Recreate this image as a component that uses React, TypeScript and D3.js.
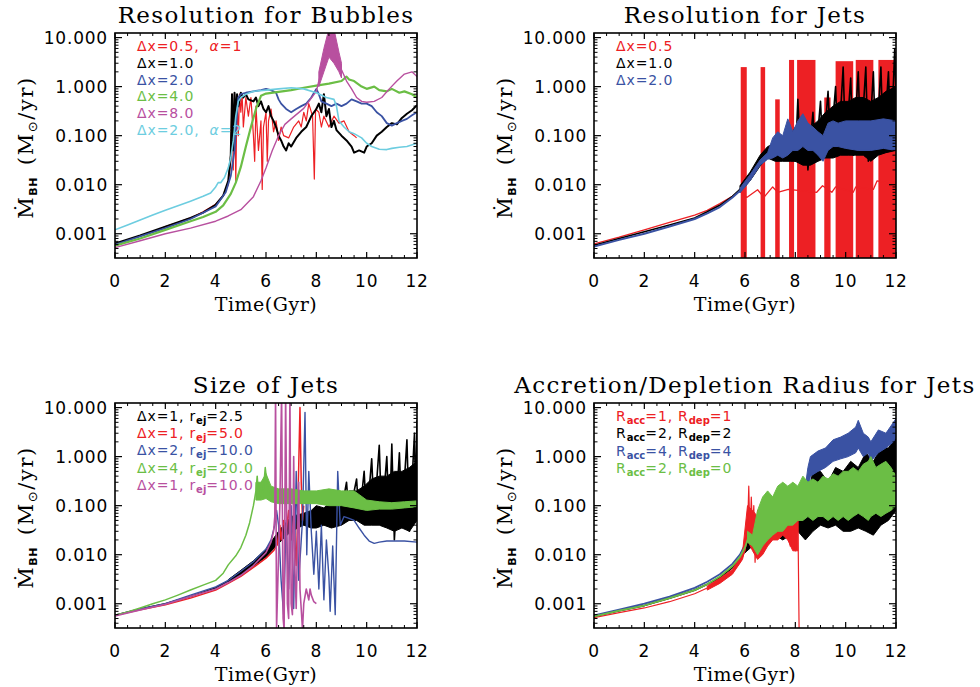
import React from "react";
import * as d3 from "d3";

type Pt = [number, number];
type Bd = [number, number, number];
type Burst = [number, number, number];

// ---------- axes ----------
const T_DOMAIN: [number, number] = [0, 12];
const V_DOMAIN: [number, number] = [3.2e-4, 12.4];
const X_TICKS = [0, 2, 4, 6, 8, 10, 12];
const Y_TICKS = [0.001, 0.01, 0.1, 1, 10];
const Y_TICK_LABELS = ["0.001", "0.010", "0.100", "1.000", "10.000"];
const TITLES = [
  "Resolution for Bubbles",
  "Resolution for Jets",
  "Size of Jets",
  "Accretion/Depletion Radius for Jets",
];

const RED = "#ED2024";
const BLACK = "#000000";
const BLUE = "#3A52A3";
const GREEN = "#6BBE45";
const MAGENTA = "#B8509F";
const CYAN = "#6DCDE0";

// ---------- Panel 1: Resolution for Bubbles ----------
const bubRed: Pt[] = [
  [0, 0.00062], [0.5, 0.00075], [1, 0.0009], [1.5, 0.0011], [2, 0.0014], [2.5, 0.0017], [3, 0.0021], [3.5, 0.0028], [4, 0.004],
  [4.3, 0.006], [4.5, 0.01], [4.6, 0.03], [4.65, 0.7], [4.7, 0.02], [4.75, 0.7], [4.8, 0.012], [4.85, 0.6], [4.9, 0.1],
  [4.95, 0.7], [5.0, 0.3], [5.05, 0.7], [5.1, 0.15], [5.2, 0.6], [5.3, 0.25], [5.4, 0.6], [5.5, 0.1], [5.55, 0.03],
  [5.6, 0.4], [5.7, 0.05], [5.8, 0.2], [5.85, 0.008], [5.9, 0.15], [6.0, 0.3], [6.05, 0.03], [6.1, 0.2], [6.2, 0.35],
  [6.3, 0.12], [6.4, 0.2], [6.5, 0.08], [6.6, 0.15], [6.7, 0.1], [6.9, 0.09], [7.1, 0.15], [7.3, 0.2], [7.4, 0.15],
  [7.5, 0.3], [7.6, 0.2], [7.7, 0.45], [7.85, 0.25], [7.92, 0.013], [7.97, 0.35], [8.1, 0.3], [8.2, 0.15], [8.3, 0.25],
  [8.5, 0.15], [8.7, 0.25], [8.9, 0.18], [9.1, 0.2], [9.3, 0.12], [9.5, 0.1], [9.6, 0.09],
];
const bubBlack: Pt[] = [
  [0, 0.00063], [1, 0.00092], [2, 0.0014], [3, 0.0021], [3.5, 0.0027], [4, 0.0039], [4.3, 0.006], [4.5, 0.012], [4.6, 0.04],
  [4.65, 0.7], [4.7, 0.05], [4.75, 0.75], [4.8, 0.2], [4.85, 0.7], [4.9, 0.4], [5.0, 0.75], [5.1, 0.6], [5.2, 0.7],
  [5.3, 0.55], [5.5, 0.5], [5.6, 0.6], [5.7, 0.4], [5.8, 0.5], [5.9, 0.35], [6.0, 0.3], [6.1, 0.4], [6.2, 0.25],
  [6.3, 0.2], [6.4, 0.15], [6.5, 0.1], [6.6, 0.08], [6.7, 0.06], [6.8, 0.05], [6.9, 0.07], [7.0, 0.06], [7.2, 0.09],
  [7.4, 0.12], [7.6, 0.15], [7.8, 0.25], [8.0, 0.35], [8.1, 0.45], [8.2, 0.3], [8.3, 0.7], [8.4, 0.25], [8.5, 0.35],
  [8.6, 0.15], [8.7, 0.2], [8.8, 0.13], [9.0, 0.1], [9.2, 0.08], [9.4, 0.06], [9.5, 0.045], [9.7, 0.05], [9.9, 0.045],
  [10.0, 0.06], [10.2, 0.07], [10.4, 0.1], [10.6, 0.12], [10.8, 0.15], [11.0, 0.18], [11.2, 0.17], [11.4, 0.23],
  [11.6, 0.28], [11.8, 0.33], [12, 0.42],
];
const bubBlue: Pt[] = [
  [0, 0.0006], [1, 0.00088], [2, 0.0013], [3, 0.002], [4, 0.0036], [4.4, 0.007], [4.6, 0.015], [4.75, 0.05], [4.85, 0.3],
  [4.9, 0.6], [5.0, 0.7], [5.2, 0.75], [5.5, 0.8], [5.8, 0.85], [6.0, 0.9], [6.2, 0.85], [6.4, 0.75], [6.5, 0.55],
  [6.6, 0.45], [6.8, 0.35], [7.0, 0.3], [7.2, 0.35], [7.4, 0.4], [7.6, 0.45], [7.8, 0.6], [8.0, 0.9], [8.1, 0.7],
  [8.2, 0.5], [8.4, 0.45], [8.6, 0.4], [8.8, 0.45], [9.0, 0.4], [9.2, 0.45], [9.4, 0.55], [9.6, 0.5], [9.8, 0.45],
  [10.0, 0.45], [10.2, 0.4], [10.4, 0.3], [10.6, 0.25], [10.8, 0.18], [11.0, 0.16], [11.2, 0.18], [11.4, 0.2],
  [11.6, 0.22], [11.8, 0.26], [12, 0.3],
];
const bubGreen: Pt[] = [
  [0, 0.00057], [1, 0.0008], [2, 0.0012], [3, 0.0018], [3.5, 0.0022], [4, 0.0028], [4.3, 0.0038], [4.6, 0.0065],
  [4.8, 0.011], [5.0, 0.023], [5.2, 0.06], [5.4, 0.15], [5.6, 0.35], [5.8, 0.65], [6.0, 0.72], [6.5, 0.78], [7.0, 0.85],
  [7.5, 0.95], [8.0, 1.05], [8.5, 1.15], [9.0, 1.3], [9.2, 1.6], [9.3, 1.4], [9.5, 1.3], [9.8, 1.0], [10.0, 0.9],
  [10.3, 1.0], [10.5, 0.85], [10.8, 0.8], [11.0, 0.9], [11.3, 0.75], [11.5, 0.8], [11.8, 0.7], [12, 0.6],
];
const bubMagenta: Pt[] = [
  [0, 0.00052], [1, 0.00072], [2, 0.001], [3, 0.0013], [4, 0.0018], [4.5, 0.0023], [5, 0.0031], [5.5, 0.0057],
  [5.8, 0.012], [6, 0.022], [6.25, 0.05], [6.5, 0.1], [6.75, 0.17], [7, 0.22], [7.5, 0.36], [8, 0.8], [8.1, 1.3],
  [8.3, 3], [8.4, 5], [8.5, 9], [8.6, 14], [8.7, 8], [8.8, 4], [8.9, 3], [9.0, 2.2], [9.2, 1.3], [9.4, 0.9], [9.6, 0.6],
  [9.8, 0.5], [10.0, 0.48], [10.3, 0.5], [10.6, 0.6], [10.9, 0.9], [11.2, 1.3], [11.5, 1.8], [11.8, 2.0], [12, 1.6],
];
const bubMagentaBand: Bd[] = [
  [8.1, 1.0, 2.0], [8.3, 2.0, 6.0], [8.5, 4.0, 15], [8.7, 3.0, 15], [8.9, 2.0, 5.0], [9.0, 1.5, 3.0],
];
const bubCyan: Pt[] = [
  [0, 0.0012], [0.5, 0.0015], [1, 0.0019], [1.5, 0.0024], [2, 0.003], [2.5, 0.0037], [3, 0.0046], [3.5, 0.0058],
  [3.8, 0.0068], [4.0, 0.009], [4.1, 0.011], [4.2, 0.011], [4.35, 0.014], [4.5, 0.022], [4.6, 0.035], [4.7, 0.08],
  [4.8, 0.25], [4.9, 0.5], [5.0, 0.6], [5.2, 0.7], [5.5, 0.8], [6.0, 0.85], [6.5, 0.9], [7.0, 0.95], [7.5, 0.9],
  [8.0, 0.75], [8.4, 0.6], [8.7, 0.55], [8.8, 0.4], [8.9, 0.2], [9.1, 0.15], [9.3, 0.12], [9.5, 0.11], [9.8, 0.09],
  [10.0, 0.07], [10.2, 0.06], [10.5, 0.053], [10.8, 0.052], [11.0, 0.055], [11.3, 0.058], [11.6, 0.06], [12, 0.07],
];

// ---------- Panel 2: Resolution for Jets ----------
const jetRed: Pt[] = [
  [0, 0.00062], [1, 0.00085], [2, 0.0012], [3, 0.0017], [4, 0.0024], [4.5, 0.003], [5, 0.0041], [5.5, 0.0058],
  [5.8, 0.0075], [6.07, 0.0055], [6.5, 0.0079], [6.75, 0.0055], [7.1, 0.009], [7.3, 0.007], [7.72, 0.008],
  [8.85, 0.007], [9.08, 0.0095], [9.45, 0.007], [9.6, 0.009], [10.3, 0.007], [10.4, 0.009], [11.1, 0.008],
  [11.25, 0.012], [12, 0.01],
];
const jetRedBursts: Burst[] = [
  [5.83, 6.07, 2.5], [6.62, 6.8, 2.5], [7.2, 7.38, 0.55], [7.75, 7.95, 3.5], [8.07, 8.8, 3.5],
  [9.15, 9.4, 0.6], [9.6, 10.3, 3.3], [10.4, 11.1, 3.5], [11.3, 12.0, 3.5],
];
const jetBlack: Pt[] = [
  [0, 0.00058], [1, 0.0008], [2, 0.0011], [3, 0.0015], [4, 0.0021], [4.5, 0.0028], [5, 0.0038], [5.5, 0.0058],
  [5.8, 0.008], [6, 0.011], [6.2, 0.015], [6.4, 0.022], [6.6, 0.032], [6.8, 0.045], [7.0, 0.05], [7.2, 0.06],
  [7.5, 0.04], [7.8, 0.08], [8.0, 0.03], [8.1, 0.55], [8.2, 0.04], [8.4, 0.2], [8.5, 0.02], [8.7, 0.3], [8.8, 0.03],
  [9.0, 0.5], [9.1, 0.04], [9.3, 0.8], [9.4, 0.05], [9.6, 1.0], [9.7, 0.04], [9.9, 2.5], [10.0, 0.05], [10.2, 1.5],
  [10.3, 0.04], [10.5, 2.0], [10.6, 0.05], [10.8, 2.5], [10.9, 0.03], [11.1, 2.0], [11.2, 0.04], [11.4, 2.5],
  [11.5, 0.05], [11.7, 2.0], [11.8, 0.06], [11.95, 6.0], [12, 0.5],
];
const jetBlackBand: Bd[] = [
  [5.8, 0.007, 0.0095], [6.2, 0.012, 0.018], [6.6, 0.024, 0.04], [6.9, 0.035, 0.06], [7.2, 0.03, 0.07],
  [7.5, 0.03, 0.08], [7.8, 0.03, 0.1], [8.0, 0.03, 0.15], [8.3, 0.025, 0.15], [8.6, 0.025, 0.15], [8.9, 0.03, 0.2],
  [9.2, 0.035, 0.3], [9.5, 0.035, 0.4], [9.8, 0.04, 0.5], [10.1, 0.04, 0.5], [10.4, 0.04, 0.6], [10.7, 0.04, 0.6],
  [11.0, 0.03, 0.5], [11.3, 0.04, 0.6], [11.6, 0.045, 0.8], [12, 0.05, 1.0],
];
const jetBlue: Pt[] = [
  [0, 0.00055], [1, 0.00075], [2, 0.001], [3, 0.0014], [4, 0.002], [4.5, 0.0026], [5, 0.0035], [5.5, 0.0055],
  [5.8, 0.0075], [6, 0.01], [6.2, 0.014], [6.4, 0.02], [6.6, 0.028], [6.8, 0.035], [7.0, 0.04],
];
const jetBlueBand: Bd[] = [
  [5.8, 0.0068, 0.0085], [6.2, 0.012, 0.016], [6.6, 0.025, 0.032], [6.9, 0.033, 0.045], [7.1, 0.035, 0.09],
  [7.3, 0.04, 0.12], [7.5, 0.035, 0.1], [7.7, 0.04, 0.22], [7.9, 0.05, 0.12], [8.1, 0.05, 0.2], [8.3, 0.06, 0.28],
  [8.5, 0.05, 0.18], [8.7, 0.05, 0.15], [8.9, 0.04, 0.12], [9.1, 0.03, 0.1], [9.3, 0.05, 0.18], [9.5, 0.06, 0.2],
  [9.7, 0.06, 0.18], [10, 0.055, 0.2], [10.5, 0.05, 0.2], [11, 0.05, 0.2], [11.5, 0.055, 0.22], [12, 0.05, 0.2],
];

// ---------- Panel 3: Size of Jets ----------
const sizeBlack: Pt[] = [
  [0, 0.00058], [1, 0.00078], [2, 0.001], [3, 0.0014], [4, 0.0021], [4.5, 0.0029], [5, 0.0042], [5.5, 0.0065],
  [6, 0.011], [6.3, 0.016], [6.5, 0.022], [7.0, 0.04], [8.0, 0.05], [9.0, 0.08], [9.2, 0.3], [9.3, 0.06],
  [9.6, 0.35], [9.7, 0.05], [9.9, 0.5], [10.0, 0.05], [10.2, 0.9], [10.3, 0.06], [10.5, 1.7], [10.6, 0.05],
  [10.8, 1.0], [10.9, 0.04], [11.0, 1.8], [11.1, 0.02], [11.3, 1.2], [11.4, 0.05], [11.6, 2.2], [11.7, 0.03],
  [11.9, 3.0], [11.95, 0.1], [12, 5.5],
];
const sizeBlackBand: Bd[] = [
  [4.5, 0.0027, 0.0031], [5, 0.0038, 0.0048], [5.5, 0.0058, 0.0075], [6, 0.009, 0.013], [6.5, 0.017, 0.03],
  [7, 0.03, 0.06], [7.5, 0.04, 0.07], [7.8, 0.035, 0.08], [8, 0.035, 0.1], [8.3, 0.04, 0.09], [8.6, 0.035, 0.12],
  [9, 0.04, 0.15], [9.3, 0.05, 0.2], [9.6, 0.05, 0.2], [9.9, 0.04, 0.25], [10.2, 0.04, 0.35], [10.5, 0.04, 0.4],
  [10.8, 0.035, 0.4], [11.1, 0.03, 0.5], [11.4, 0.035, 0.5], [11.7, 0.03, 0.6], [12, 0.05, 0.8],
];
const sizeRed: Pt[] = [
  [0, 0.00058], [1, 0.00075], [2, 0.00095], [3, 0.0013], [4, 0.0019], [4.5, 0.0026], [5, 0.0036], [5.5, 0.0055],
  [6, 0.0085], [6.3, 0.012], [6.45, 0.016], [6.55, 0.04], [6.6, 0.02], [6.7, 0.05], [6.8, 0.03], [6.9, 0.08],
  [7.0, 0.02], [7.1, 0.05], [7.2, 0.006], [7.25, 0.04], [7.35, 10], [7.4, 0.3], [7.45, 0.05], [7.5, 0.1],
];
const sizeBlue: Pt[] = [
  [0, 0.00058], [1, 0.00078], [2, 0.001], [3, 0.0015], [4, 0.0022], [4.5, 0.003], [5, 0.0046], [5.5, 0.0072],
  [6, 0.013], [6.2, 0.02], [6.35, 0.04], [6.42, 0.08], [6.5, 0.04], [6.6, 0.003], [6.7, 0.0006], [6.8, 0.05],
  [6.9, 0.002], [7.0, 0.1], [7.1, 0.0008], [7.2, 0.5], [7.3, 0.003], [7.45, 0.05], [7.55, 8], [7.62, 0.01],
  [7.7, 0.5], [7.8, 0.03], [7.9, 0.004], [8.0, 0.03], [8.1, 0.002], [8.2, 0.04], [8.3, 0.0012], [8.4, 0.02],
  [8.5, 0.0035], [8.55, 0.0007], [8.65, 0.015], [8.75, 0.0006], [8.85, 0.5], [8.95, 0.04], [9.1, 0.06],
  [9.3, 0.055], [9.5, 0.05], [9.7, 0.035], [9.9, 0.025], [10.1, 0.019], [10.3, 0.017], [10.5, 0.018],
  [10.8, 0.019], [11, 0.019], [11.5, 0.019], [12, 0.018],
];
const sizeGreen: Pt[] = [
  [0, 0.00058], [0.5, 0.00068], [1, 0.00082], [1.5, 0.001], [2, 0.0012], [2.5, 0.0015], [3, 0.0019], [3.5, 0.0024],
  [4, 0.003], [4.3, 0.0042], [4.5, 0.0062], [4.8, 0.0095], [5.0, 0.014], [5.2, 0.025], [5.35, 0.045], [5.5, 0.1],
  [5.6, 0.2], [5.65, 0.4], [5.7, 0.18], [5.75, 0.28], [5.8, 0.15], [5.9, 0.22], [5.97, 0.6], [6.05, 0.25],
  [6.1, 0.2], [6.3, 0.15],
];
const sizeGreenBand: Bd[] = [
  [5.6, 0.13, 0.3], [5.8, 0.13, 0.3], [6.0, 0.14, 0.45], [6.2, 0.12, 0.25], [6.5, 0.11, 0.22], [7, 0.11, 0.22],
  [7.5, 0.11, 0.2], [8, 0.11, 0.2], [8.5, 0.1, 0.22], [9, 0.1, 0.2], [9.5, 0.09, 0.2], [10, 0.08, 0.13],
  [10.5, 0.085, 0.12], [11, 0.085, 0.115], [11.5, 0.09, 0.12], [12, 0.095, 0.125],
];
const sizeMagenta: Pt[] = [
  [0, 0.00056], [1, 0.00075], [2, 0.00098], [3, 0.0014], [4, 0.002], [4.5, 0.0027], [5, 0.0038], [5.5, 0.006],
  [6, 0.011], [6.2, 0.018], [6.3, 0.03], [6.35, 0.06], [6.38, 20], [6.42, 0.0003], [6.5, 0.01], [6.55, 0.1],
  [6.62, 20], [6.68, 0.0005], [6.72, 0.0003], [6.78, 20], [6.85, 0.001], [6.9, 0.0005], [6.95, 20], [7.0, 0.001],
  [7.05, 0.0006], [7.1, 1], [7.15, 0.005], [7.2, 0.0008], [7.3, 0.3], [7.35, 0.002], [7.45, 0.0003], [7.5, 0.001],
  [7.6, 0.002], [7.7, 0.0012], [7.75, 0.002], [7.8, 0.0015], [7.9, 0.0011], [8.0, 0.001],
];

// ---------- Panel 4: Accretion / Depletion radius ----------
const accRed: Pt[] = [
  [0, 0.00052], [1, 0.00066], [2, 0.00082], [3, 0.0011], [4, 0.0016], [4.5, 0.0021], [5, 0.0029], [5.5, 0.0045],
  [5.8, 0.007], [6.0, 0.012], [6.1, 0.03], [6.15, 0.25], [6.2, 0.02], [6.25, 0.15], [6.3, 0.03], [6.35, 0.1],
  [6.4, 0.007], [6.5, 0.08], [6.6, 0.02], [6.7, 0.05], [6.8, 0.015], [7.0, 0.06], [7.1, 0.03], [7.3, 0.2],
  [7.4, 0.04], [7.6, 0.2], [7.7, 0.03], [7.8, 0.015], [7.9, 0.08], [8.0, 0.012], [8.1, 0.07], [8.15, 0.0003],
];
const accRedBand: Bd[] = [
  [4.5, 0.0019, 0.0023], [5, 0.0026, 0.0033], [5.5, 0.004, 0.005], [5.9, 0.008, 0.011], [6.1, 0.02, 0.1],
  [6.3, 0.012, 0.08], [6.5, 0.008, 0.06], [6.7, 0.01, 0.06], [6.9, 0.015, 0.08], [7.1, 0.02, 0.1], [7.3, 0.02, 0.15],
  [7.5, 0.025, 0.12], [7.7, 0.02, 0.15], [7.9, 0.012, 0.07], [8.1, 0.012, 0.06],
];
const accBlack: Pt[] = [
  [0, 0.00055], [1, 0.00072], [2, 0.00092], [3, 0.0013], [4, 0.0019], [4.5, 0.0025], [5, 0.0034], [5.5, 0.0055],
  [5.8, 0.008], [6.0, 0.012], [6.2, 0.017], [6.4, 0.02],
];
const accBlackBand: Bd[] = [
  [6.0, 0.011, 0.018], [6.3, 0.015, 0.03], [6.6, 0.015, 0.04], [6.9, 0.02, 0.05], [7.2, 0.025, 0.06],
  [7.5, 0.02, 0.05], [7.8, 0.025, 0.06], [8.1, 0.03, 0.08], [8.4, 0.02, 0.1], [8.7, 0.03, 0.5], [9, 0.04, 0.5],
  [9.3, 0.035, 0.3], [9.6, 0.04, 0.6], [9.9, 0.03, 0.5], [10.2, 0.03, 0.8], [10.5, 0.035, 0.6], [10.8, 0.03, 1.2],
  [11.1, 0.025, 0.8], [11.4, 0.04, 1.5], [11.7, 0.05, 1.5], [12, 0.08, 2.5],
];
const accBlue: Pt[] = [
  [0, 0.00058], [1, 0.00076], [2, 0.001], [3, 0.0014], [4, 0.0021], [4.5, 0.0028], [5, 0.004], [5.5, 0.0065],
  [5.8, 0.01], [6.0, 0.016], [6.1, 0.02],
];
const accBlueBand: Bd[] = [
  [6.1, 0.018, 0.03], [6.4, 0.025, 0.04], [6.7, 0.025, 0.045], [7.0, 0.03, 0.06], [7.3, 0.035, 0.07],
  [7.6, 0.04, 0.09], [7.9, 0.05, 0.12], [8.2, 0.07, 0.15], [8.4, 0.1, 0.25], [8.5, 0.2, 0.6], [8.6, 0.4, 1.0],
  [8.9, 0.5, 1.3], [9.2, 0.6, 1.5], [9.5, 0.8, 2.2], [9.8, 0.9, 2.5], [10.1, 1.0, 3.0], [10.4, 1.2, 4.0],
  [10.5, 1.5, 5.5], [10.7, 1.0, 3.0], [10.9, 1.2, 2.5], [11.0, 0.8, 2.0], [11.3, 1.2, 3.5], [11.6, 1.5, 3.0],
  [11.9, 2.0, 5.0], [12, 2.5, 6.0],
];
const accGreen: Pt[] = [
  [0, 0.00055], [1, 0.00072], [2, 0.00092], [3, 0.0013], [4, 0.0019], [4.5, 0.0025], [5, 0.0036], [5.5, 0.0058],
  [5.8, 0.009], [6.0, 0.014], [6.1, 0.02], [6.2, 0.025],
];
const accGreenBand: Bd[] = [
  [6.1, 0.018, 0.03], [6.3, 0.015, 0.025], [6.5, 0.01, 0.08], [6.7, 0.015, 0.15], [6.9, 0.02, 0.2],
  [7.1, 0.025, 0.15], [7.3, 0.03, 0.25], [7.5, 0.03, 0.3], [7.7, 0.04, 0.25], [7.9, 0.04, 0.3], [8.1, 0.05, 0.25],
  [8.3, 0.05, 0.4], [8.5, 0.06, 0.3], [8.7, 0.05, 0.35], [8.9, 0.06, 0.3], [9.1, 0.06, 0.4], [9.3, 0.05, 0.35],
  [9.5, 0.06, 0.45], [9.7, 0.05, 0.4], [9.9, 0.06, 0.5], [10.1, 0.05, 0.5], [10.3, 0.06, 0.6], [10.5, 0.07, 0.5],
  [10.7, 0.06, 0.7], [10.9, 0.05, 0.8], [11.0, 0.06, 1.0], [11.2, 0.07, 0.6], [11.4, 0.06, 0.7], [11.6, 0.07, 0.8],
  [11.8, 0.08, 0.6], [12, 0.1, 0.4],
];

// ---------- legends ----------
type Seg = [string, "n" | "sub" | "it" | "gap"];
type LegendItem = { color: string; segs: Seg[] };
const legendBubbles: LegendItem[] = [
  { color: RED, segs: [["Δx=0.5,", "n"], ["α", "it"], ["=1", "n"]] },
  { color: BLACK, segs: [["Δx=1.0", "n"]] },
  { color: BLUE, segs: [["Δx=2.0", "n"]] },
  { color: GREEN, segs: [["Δx=4.0", "n"]] },
  { color: MAGENTA, segs: [["Δx=8.0", "n"]] },
  { color: CYAN, segs: [["Δx=2.0,", "n"], ["α", "it"], ["=2", "n"]] },
];
const legendJets: LegendItem[] = [
  { color: RED, segs: [["Δx=0.5", "n"]] },
  { color: BLACK, segs: [["Δx=1.0", "n"]] },
  { color: BLUE, segs: [["Δx=2.0", "n"]] },
];
const legendSize: LegendItem[] = [
  { color: BLACK, segs: [["Δx=1,", "n"], ["r", "gap"], ["ej", "sub"], ["=2.5", "n"]] },
  { color: RED, segs: [["Δx=1,", "n"], ["r", "gap"], ["ej", "sub"], ["=5.0", "n"]] },
  { color: BLUE, segs: [["Δx=2,", "n"], ["r", "gap"], ["ej", "sub"], ["=10.0", "n"]] },
  { color: GREEN, segs: [["Δx=4,", "n"], ["r", "gap"], ["ej", "sub"], ["=20.0", "n"]] },
  { color: MAGENTA, segs: [["Δx=1,", "n"], ["r", "gap"], ["ej", "sub"], ["=10.0", "n"]] },
];
const legendAcc: LegendItem[] = [
  { color: RED, segs: [["R", "n"], ["acc", "sub"], ["=1,", "n"], ["R", "gap"], ["dep", "sub"], ["=1", "n"]] },
  { color: BLACK, segs: [["R", "n"], ["acc", "sub"], ["=2,", "n"], ["R", "gap"], ["dep", "sub"], ["=2", "n"]] },
  { color: BLUE, segs: [["R", "n"], ["acc", "sub"], ["=4,", "n"], ["R", "gap"], ["dep", "sub"], ["=4", "n"]] },
  { color: GREEN, segs: [["R", "n"], ["acc", "sub"], ["=2,", "n"], ["R", "gap"], ["dep", "sub"], ["=0", "n"]] },
];

type Layer = { color: string; line?: Pt[]; band?: Bd[]; bursts?: Burst[]; width?: number };

const PW = 302;
const PH = 225;
const SANS = "'DejaVu Sans', sans-serif";
const SERIF = "'DejaVu Serif', serif";

function Legend({ items, x, y, dy }: { items: LegendItem[]; x: number; y: number; dy: number }) {
  return (
    <g>
      {items.map((it, i) => {
        const out: React.ReactNode[] = [];
        let shifted = false;
        it.segs.forEach((s, j) => {
          let d = 0;
          if (s[1] === "sub" && !shifted) { d = 3; shifted = true; }
          else if (s[1] !== "sub" && shifted) { d = -3; shifted = false; }
          const gap = s[1] === "it" ? 10 : s[1] === "gap" ? 5 : 0;
          out.push(
            <tspan key={j} dy={d} dx={gap}
              fontSize={s[1] === "sub" ? 10 : 14}
              fontWeight={s[1] === "sub" ? "bold" : "normal"}
              letterSpacing={s[1] === "sub" ? 0 : 0.9}
              fontStyle={s[1] === "it" ? "italic" : "normal"}>
              {s[0]}
            </tspan>
          );
        });
        return (
          <text key={i} x={x} y={y + i * dy} fill={it.color} fontFamily={SANS} fontSize={14}>
            {out}
          </text>
        );
      })}
    </g>
  );
}

function Panel({ id, x0, y0, title, layers, legend, legendDy }: {
  id: string; x0: number; y0: number; title: string; layers: Layer[]; legend: LegendItem[]; legendDy: number;
}) {
  const xs = d3.scaleLinear().domain(T_DOMAIN).range([0, PW]);
  const ys = d3.scaleLog().domain(V_DOMAIN).range([PH, 0]);
  const yc = (v: number) => ys(Math.max(v, V_DOMAIN[0] * 0.5));
  const line = d3.line<Pt>().x((d) => xs(d[0])).y((d) => yc(d[1]));
  const area = d3.area<Bd>().x((d) => xs(d[0])).y0((d) => yc(d[1])).y1((d) => yc(d[2]));

  const minorY: number[] = [];
  for (let k = -4; k <= 1; k++) for (let m = 2; m <= 9; m++) {
    const v = m * Math.pow(10, k);
    if (v > V_DOMAIN[0] && v < V_DOMAIN[1]) minorY.push(v);
  }
  const minorX = d3.range(0, 12.01, 0.5).filter((t) => Math.abs(t / 2 - Math.round(t / 2)) > 1e-6);

  return (
    <g transform={`translate(${x0},${y0})`}>
      <defs>
        <clipPath id={id}><rect x={0} y={0} width={PW} height={PH} /></clipPath>
      </defs>
      <text x={PW / 2} y={-10} textAnchor="middle" fontFamily={SERIF} fontSize={23} letterSpacing={1.4}>
        {title}
      </text>
      <g clipPath={`url(#${id})`}>
        {layers.map((L, i) => (
          <g key={i}>
            {L.bursts && L.bursts.map((b, j) => (
              <rect key={j} x={xs(b[0])} width={xs(b[1]) - xs(b[0])} y={ys(b[2])} height={PH - ys(b[2])} fill={L.color} />
            ))}
            {L.band && <path d={area(L.band) || ""} fill={L.color} stroke={L.color} strokeWidth={1} />}
            {L.line && <path d={line(L.line) || ""} fill="none" stroke={L.color} strokeWidth={L.width ?? 1.3} strokeLinejoin="round" />}
          </g>
        ))}
      </g>
      <Legend items={legend} x={22} y={18} dy={legendDy} />
      <rect x={0} y={0} width={PW} height={PH} fill="none" stroke="#000" strokeWidth={1.6} />
      {Y_TICKS.map((v, i) => (
        <g key={i}>
          <line x1={0} x2={7} y1={ys(v)} y2={ys(v)} stroke="#000" strokeWidth={1.2} />
          <line x1={PW} x2={PW - 7} y1={ys(v)} y2={ys(v)} stroke="#000" strokeWidth={1.2} />
          <text x={-7} y={ys(v) + 6} textAnchor="end" fontFamily={SANS} fontSize={17} letterSpacing={0.8}>
            {Y_TICK_LABELS[i]}
          </text>
        </g>
      ))}
      {minorY.map((v, i) => (
        <g key={i}>
          <line x1={0} x2={3.5} y1={ys(v)} y2={ys(v)} stroke="#000" strokeWidth={1} />
          <line x1={PW} x2={PW - 3.5} y1={ys(v)} y2={ys(v)} stroke="#000" strokeWidth={1} />
        </g>
      ))}
      {X_TICKS.map((t, i) => (
        <g key={i}>
          <line x1={xs(t)} x2={xs(t)} y1={PH} y2={PH - 6} stroke="#000" strokeWidth={1.2} />
          <line x1={xs(t)} x2={xs(t)} y1={0} y2={6} stroke="#000" strokeWidth={1.2} />
          <text x={xs(t)} y={PH + 29} textAnchor="middle" fontFamily={SANS} fontSize={17} letterSpacing={0.8}>
            {String(t)}
          </text>
        </g>
      ))}
      {minorX.map((t, i) => (
        <g key={i}>
          <line x1={xs(t)} x2={xs(t)} y1={PH} y2={PH - 3} stroke="#000" strokeWidth={1} />
          <line x1={xs(t)} x2={xs(t)} y1={0} y2={3} stroke="#000" strokeWidth={1} />
        </g>
      ))}
      <text x={PW / 2} y={PH + 53} textAnchor="middle" fontFamily={SERIF} fontSize={19} letterSpacing={0.5}>
        Time(Gyr)
      </text>
      <text transform={`translate(${-82},${PH / 2 + 2}) rotate(-90)`} textAnchor="middle" fontFamily={SERIF} fontSize={21}
        letterSpacing={1.6}>
        <tspan>Ṁ</tspan>
        <tspan dy={4} fontSize={11} fontFamily={SANS} fontWeight="bold" letterSpacing={0.5}>BH</tspan>
        <tspan dy={-4} dx={12}>(M</tspan>
        <tspan dy={4} fontSize={13} fontFamily={SANS}>⊙</tspan>
        <tspan dy={-4}>/yr)</tspan>
      </text>
    </g>
  );
}

export default function App() {
  const p1: Layer[] = [
    { color: RED, line: bubRed, width: 1.2 },
    { color: BLACK, line: bubBlack, width: 2 },
    { color: BLUE, line: bubBlue, width: 1.8 },
    { color: GREEN, line: bubGreen, width: 2.2 },
    { color: MAGENTA, line: bubMagenta, band: bubMagentaBand, width: 1.4 },
    { color: CYAN, line: bubCyan, width: 1.6 },
  ];
  const p2: Layer[] = [
    { color: RED, line: jetRed, bursts: jetRedBursts, width: 1.3 },
    { color: BLACK, line: jetBlack, band: jetBlackBand, width: 1.6 },
    { color: BLUE, line: jetBlue, band: jetBlueBand, width: 2 },
  ];
  const p3: Layer[] = [
    { color: BLACK, line: sizeBlack, band: sizeBlackBand, width: 1.6 },
    { color: RED, line: sizeRed, width: 1.5 },
    { color: BLUE, line: sizeBlue, width: 1.4 },
    { color: GREEN, line: sizeGreen, band: sizeGreenBand, width: 1.5 },
    { color: MAGENTA, line: sizeMagenta, width: 1.6 },
  ];
  const p4: Layer[] = [
    { color: BLACK, line: accBlack, band: accBlackBand, width: 1.8 },
    { color: BLUE, line: accBlue, band: accBlueBand, width: 1.8 },
    { color: RED, line: accRed, band: accRedBand, width: 1.2 },
    { color: GREEN, line: accGreen, band: accGreenBand, width: 1.8 },
  ];
  return (
    <svg width={980} height={687} style={{ position: "absolute", left: 0, top: 0, background: "#fff" }}>
      <rect x={0} y={0} width={980} height={687} fill="#fff" />
      <Panel id="c1" x0={115} y0={33} title={TITLES[0]} layers={p1} legend={legendBubbles} legendDy={16.8} />
      <Panel id="c2" x0={594} y0={33} title={TITLES[1]} layers={p2} legend={legendJets} legendDy={16.8} />
      <Panel id="c3" x0={115} y0={403} title={TITLES[2]} layers={p3} legend={legendSize} legendDy={17.2} />
      <Panel id="c4" x0={594} y0={403} title={TITLES[3]} layers={p4} legend={legendAcc} legendDy={17.4} />
    </svg>
  );
}
